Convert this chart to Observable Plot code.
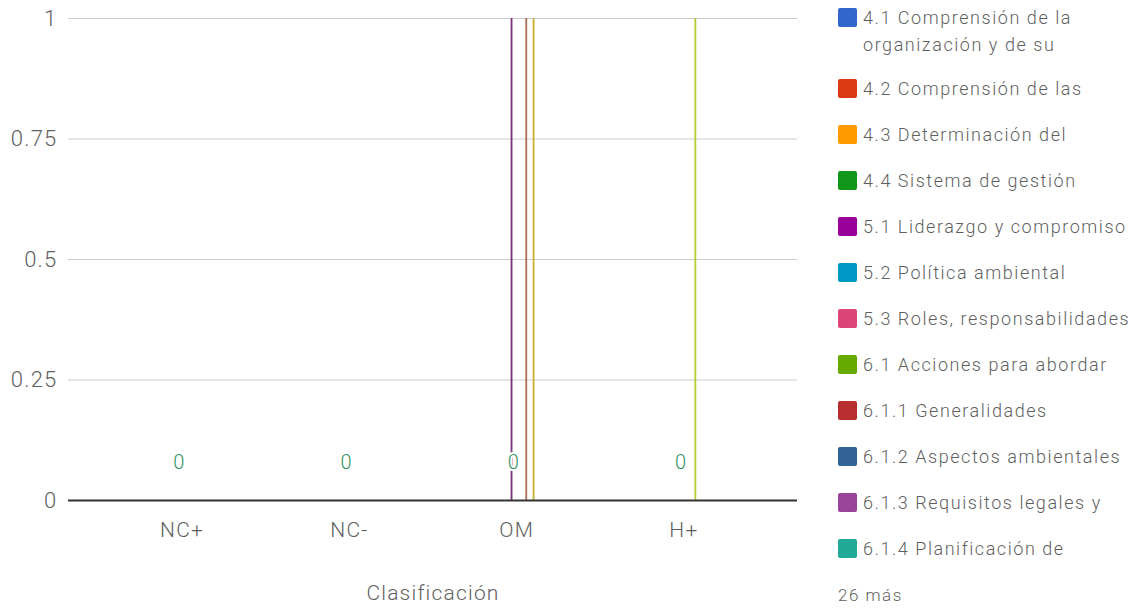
<!DOCTYPE html>
<html>
<head>
<meta charset="utf-8">
<script src="https://cdn.jsdelivr.net/npm/d3@7"></script>
<script src="https://cdn.jsdelivr.net/npm/@observablehq/plot@0.6"></script>
<style>
  html, body { margin: 0; padding: 0; background: #fff; }
  #wrap { position: relative; width: 1136px; height: 608px; font-family: Roboto, "Open Sans", sans-serif; overflow: hidden; }
  #legend { position: absolute; left: 0; top: 0; }
  .item { position: absolute; left: 838px; display: flex; align-items: flex-start; }
  .sw { width: 19px; height: 19px; border-radius: 2px; margin-right: 6px; flex: none; }
  .lab { font-size: 18px; color: #5f5f5f; line-height: 27px; white-space: pre; letter-spacing: 1.55px; margin-top: -4px; font-weight: 300; }
  .more { position: absolute; left: 838px; font-size: 17px; color: #5f5f5f; white-space: nowrap; letter-spacing: 1.5px; font-weight: 300; }
  svg text { letter-spacing: 1.2px; }
</style>
</head>
<body>
<div id="wrap"><div id="legend"></div></div>
<script>
// Categories (x axis)
const categories = ["NC+", "NC-", "OM", "H+"];

// Series (ISO 14001 clauses) – 38 in total, 12 shown in legend + "26 más"
const series = [
  "4.1 Comprensión de la organización y de su contexto",
  "4.2 Comprensión de las necesidades y expectativas",
  "4.3 Determinación del alcance",
  "4.4 Sistema de gestión ambiental",
  "5.1 Liderazgo y compromiso",
  "5.2 Política ambiental",
  "5.3 Roles, responsabilidades y autoridades",
  "6.1 Acciones para abordar riesgos y oportunidades",
  "6.1.1 Generalidades",
  "6.1.2 Aspectos ambientales",
  "6.1.3 Requisitos legales y otros requisitos",
  "6.1.4 Planificación de acciones",
  "6.2 Objetivos ambientales",
  "6.2.1 Objetivos ambientales",
  "6.2.2 Planificación de acciones para lograr los objetivos",
  "7.1 Recursos",
  "7.2 Competencia",
  "7.3 Toma de conciencia",
  "7.4 Comunicación",
  "7.4.1 Generalidades",
  "7.4.2 Comunicación interna",
  "7.4.3 Comunicación externa",
  "7.5 Información documentada",
  "7.5.1 Generalidades",
  "7.5.2 Creación y actualización",
  "7.5.3 Control de la información documentada",
  "8.1 Planificación y control operacional",
  "8.2 Preparación y respuesta ante emergencias",
  "9.1 Seguimiento, medición, análisis y evaluación",
  "9.1.1 Generalidades",
  "9.1.2 Evaluación del cumplimiento",
  "9.2 Auditoría interna",
  "9.2.1 Generalidades",
  "9.2.2 Programa de auditoría interna",
  "9.3 Revisión por la dirección",
  "10.1 Generalidades",
  "10.2 No conformidad y acción correctiva",
  "10.3 Mejora continua"
];

// Legend text as displayed (truncated)
const legendLabels = [
  "4.1 Comprensión de la\norganización y de su",
  "4.2 Comprensión de las",
  "4.3 Determinación del",
  "4.4 Sistema de gestión",
  "5.1 Liderazgo y compromiso",
  "5.2 Política ambiental",
  "5.3 Roles, responsabilidades",
  "6.1 Acciones para abordar",
  "6.1.1 Generalidades",
  "6.1.2 Aspectos ambientales",
  "6.1.3 Requisitos legales y",
  "6.1.4 Planificación de"
];
const moreLabel = "26 más";

// Google classic palette
const palette = ["#3366cc","#dc3912","#ff9900","#109618","#990099","#0099c6","#dd4477","#66aa00",
  "#b82e2e","#316395","#994499","#22aa99","#aaaa11","#6633cc","#e67300","#8b0707","#651067",
  "#329262","#5574a6","#3b3eac","#b77322","#16d620","#b91383","#f4359e","#9c5935","#a9c413",
  "#2a778d","#668d1c","#bea413","#0c5922","#743411"];

// Values per category, one entry per series
const valuesNCplus  = [0,0,0,0,0,0,0,0,0,0,0,0,0,0,0,0,0,0,0,0,0,0,0,0,0,0,0,0,0,0,0,0,0,0,0,0,0,0];
const valuesNCminus = [0,0,0,0,0,0,0,0,0,0,0,0,0,0,0,0,0,0,0,0,0,0,0,0,0,0,0,0,0,0,0,0,0,0,0,0,0,0];
const valuesOM      = [0,0,0,0,0,0,0,0,0,0,0,0,0,0,0,0,1,0,0,0,0,0,0,0,1,0,0,0,1,0,0,0,0,0,0,0,0,0];
const valuesHplus   = [0,0,0,0,0,0,0,0,0,0,0,0,0,0,0,0,0,0,0,0,0,0,0,0,0,1,0,0,0,0,0,0,0,0,0,0,0,0];

// Series whose values are annotated
const annotatedSeries = "7.3 Toma de conciencia";

const yTicks = [0, 0.25, 0.5, 0.75, 1];

// ---- build table ----
const valueRows = [valuesNCplus, valuesNCminus, valuesOM, valuesHplus];
const nS = series.length;
const groupWidth = 0.418;           // fraction of a category occupied by the group
const barW = groupWidth / nS;
const data = [];
categories.forEach((c, ci) => {
  series.forEach((s, si) => {
    const x1 = ci + 0.5 - groupWidth / 2 + si * barW;
    data.push({category: c, series: s, value: valueRows[ci][si], x1, x2: x1 + barW, xm: x1 + barW / 2});
  });
});
const labelData = data.filter(d => d.series === annotatedSeries);
const colors = series.map((s, i) => palette[i % palette.length]);
const colorOf = new Map(series.map((s, i) => [s, colors[i]]));

const chart = Plot.plot({
  width: 1136,
  height: 608,
  marginLeft: 68,
  marginRight: 339,
  marginTop: 18,
  marginBottom: 108,
  style: {fontFamily: "Roboto, sans-serif", background: "transparent"},
  x: {domain: [0, categories.length], insetLeft: 30, insetRight: 30},
  y: {domain: [0, 1]},
  color: {domain: series, range: colors},
  marks: [
    Plot.ruleY(yTicks.filter(t => t > 0), {stroke: "#cccccc", strokeWidth: 1}),
    Plot.rectY(data, {x1: "x1", x2: "x2", y: "value", fill: "series", fillOpacity: 0.85}),
    Plot.ruleY([0], {stroke: "#333333", strokeWidth: 2}),
    Plot.text(labelData, {x: "xm", y: "value", text: d => String(d.value), dy: -38,
      fill: colorOf.get(annotatedSeries), stroke: "white", strokeWidth: 4, fontSize: 20, fontWeight: 300}),
    Plot.axisY({ticks: yTicks, tickFormat: d3.format("~g"), tickSize: 0, tickPadding: 11,
      label: null, fontSize: 22, color: "#5f5f5f", fontWeight: 300}),
    Plot.axisX({ticks: categories.map((c, i) => i + 0.5), tickFormat: v => categories[Math.floor(v)],
      tickSize: 0, tickPadding: 22, label: null, fontSize: 21, color: "#5f5f5f", fontWeight: 300}),
    Plot.text(["Clasificación"], {frameAnchor: "bottom", dy: 99, fontSize: 21, fill: "#5f5f5f", fontWeight: 300})
  ]
});
document.getElementById("wrap").prepend(chart);

// ---- legend ----
const legend = document.getElementById("legend");
legendLabels.forEach((t, i) => {
  const item = document.createElement("div");
  item.className = "item";
  const top = i === 0 ? 8 : 79 + 46 * (i - 1);
  item.style.top = top + "px";
  const sw = document.createElement("div");
  sw.className = "sw";
  sw.style.background = colors[i];
  const lab = document.createElement("div");
  lab.className = "lab";
  lab.textContent = t;
  item.appendChild(sw);
  item.appendChild(lab);
  legend.appendChild(item);
});
const more = document.createElement("div");
more.className = "more";
more.style.top = (79 + 46 * 11) + "px";
more.textContent = moreLabel;
legend.appendChild(more);
</script>
</body>
</html>
